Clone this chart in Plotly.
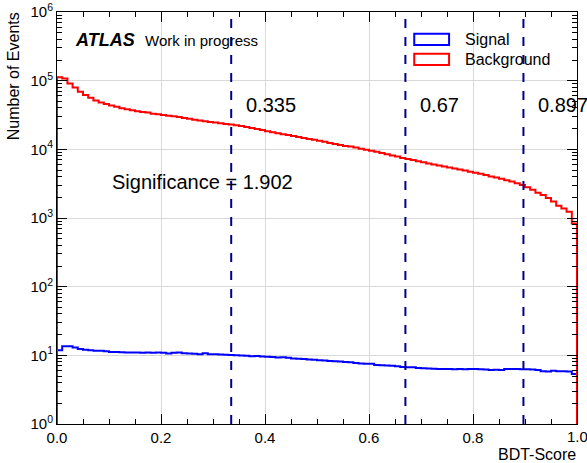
import numpy as np
import plotly.graph_objects as go

# Per-bin event counts of the BDT output (100 uniform bins on [0, 1])
background = [
    112200, 107200, 91200, 79400, 69200, 61700, 56200, 51300, 47900, 45700,
    43600, 41700, 39800, 38500, 37200, 35900, 35100, 34300, 33100, 32400,
    31600, 30900, 30200, 29500, 28500, 27900, 26900, 26300, 25700, 25100,
    24500, 24000, 23400, 22900, 22400, 21900, 21100, 20400, 19700, 19100,
    18400, 17800, 17200, 16600, 16200, 15700, 15100, 14600, 14100, 13800,
    13300, 12900, 12400, 12000, 11600, 11200, 11000, 10600, 10200, 9890,
    9550, 9230, 8810, 8510, 8130, 7850, 7500, 7240, 7000, 6680,
    6460, 6240, 6030, 5820, 5620, 5430, 5250, 5070, 4900, 4730,
    4570, 4420, 4220, 4030, 3890, 3720, 3550, 3390, 3200, 3020,
    2800, 2570, 2340, 2160, 1950, 1740, 1510, 1380, 1230, 830,
]
signal = [
    11.9, 13.6, 13.6, 13.0, 12.4, 12.1, 11.9, 11.7, 11.7, 11.5,
    11.2, 11.2, 11.1, 10.96, 10.96, 10.96, 10.9, 10.96, 10.9, 10.96,
    10.9, 10.6, 10.9, 10.96, 10.7, 10.6, 10.55, 10.35, 10.7, 10.4,
    10.35, 10.3, 10.2, 10.1, 10.05, 9.95, 9.85, 9.7, 9.75, 9.6,
    9.5, 9.45, 9.3, 9.35, 9.2, 9.0, 8.95, 8.85, 8.7, 8.6,
    8.5, 8.4, 8.3, 8.2, 8.1, 8.0, 7.9, 7.75, 7.6, 7.55,
    7.55, 7.25, 7.15, 7.1, 7.05, 6.95, 6.75, 6.7, 6.7, 6.55,
    6.5, 6.45, 6.4, 6.35, 6.3, 6.3, 6.25, 6.3, 6.25, 6.3,
    6.3, 6.25, 6.2, 6.1, 6.15, 6.1, 6.3, 6.35, 6.3, 6.25,
    6.25, 6.2, 6.1, 5.85, 5.8, 5.95, 5.85, 5.85, 5.8, 5.35,
]
cut_values = [0.335, 0.67, 0.897]
significance = 1.902
y_tick_exponents = [0, 1, 2, 3, 4, 5, 6]
x_tick_values = [0.0, 0.2, 0.4, 0.6, 0.8, 1.0]

edges = np.linspace(0.0, 1.0, len(background) + 1)


def outline(counts):
    """Step outline of a histogram, closed down to the axis floor at both ends."""
    floor = 10 ** y_tick_exponents[0]
    xs = [edges[0]] + list(edges[:-1]) + [edges[-1], edges[-1]]
    ys = [floor] + list(counts) + [counts[-1], floor]
    return xs, ys


FONT = "Liberation Sans, Arial, Helvetica, sans-serif"

fig = go.Figure()

sx, sy = outline(signal)
fig.add_trace(go.Scatter(x=sx, y=sy, mode="lines", line_shape="hv",
                         line=dict(color="#0000ff", width=2),
                         name="Signal", showlegend=False))
bx, by = outline(background)
fig.add_trace(go.Scatter(x=bx, y=by, mode="lines", line_shape="hv",
                         line=dict(color="#ff0000", width=2),
                         name="Background", showlegend=False))

# Cut positions: dashed vertical lines with their values
for c in cut_values:
    fig.add_shape(type="line", xref="x", yref="paper", x0=c, x1=c, y0=0, y1=1,
                  line=dict(color="#00008b", width=2, dash="dash"))
    fig.add_annotation(x=c + 0.025, y=0.774, xref="x", yref="paper",
                       text=f"{c}", showarrow=False, xanchor="left", yanchor="middle",
                       font=dict(family=FONT, size=20, color="black"))

fig.add_annotation(x=0.102, y=0.587, xref="x", yref="paper",
                   text=f"Significance = {significance}", showarrow=False,
                   xanchor="left", yanchor="middle",
                   font=dict(family=FONT, size=20, color="black"))

# ATLAS label
fig.add_annotation(x=0.03, y=0.932, xref="x", yref="paper", text="<b><i>ATLAS</i></b>",
                   showarrow=False, xanchor="left", yanchor="middle",
                   font=dict(family=FONT, size=18, color="black"))
fig.add_annotation(x=0.165, y=0.932, xref="x", yref="paper", text="Work in progress",
                   showarrow=False, xanchor="left", yanchor="middle",
                   font=dict(family=FONT, size=15, color="black"))

# Legend with outlined boxes
legend_items = [("Signal", "#0000ff", 0.9335), ("Background", "#ff0000", 0.885)]
for label, color, yc in legend_items:
    fig.add_shape(type="rect", xref="x", yref="paper",
                  x0=0.687, x1=0.754, y0=yc - 0.0135, y1=yc + 0.0135,
                  line=dict(color=color, width=2), fillcolor="rgba(0,0,0,0)")
    fig.add_annotation(x=0.78, y=yc, xref="x", yref="paper", text=label,
                       showarrow=False, xanchor="left", yanchor="middle",
                       font=dict(family=FONT, size=16, color="black"))

# The last x tick label overhangs the page edge; draw it as text so it is not dropped
fig.add_annotation(x=x_tick_values[-1], y=-0.03, xref="x", yref="paper",
                   text=f"{x_tick_values[-1]:.1f}", showarrow=False,
                   xanchor="center", yanchor="middle",
                   font=dict(family=FONT, size=15, color="black"))

# Axis titles (ROOT style: aligned to the axis ends)
fig.add_annotation(x=1.0, y=-0.073, xref="paper", yref="paper", text="BDT-Score",
                   showarrow=False, xanchor="right", yanchor="middle", borderpad=0,
                   font=dict(family=FONT, size=16, color="black"))
fig.add_annotation(x=-0.082, y=1.005, xref="paper", yref="paper", text="Number of Events",
                   textangle=-90, showarrow=False, xanchor="center", yanchor="top",
                   font=dict(family=FONT, size=16, color="black"))

y_minor = [k * 10 ** e for e in y_tick_exponents[:-1] for k in range(2, 10)]

fig.update_xaxes(
    range=[0, 1], tickmode="array", tickvals=x_tick_values,
    ticktext=[f"{v:.1f}" for v in x_tick_values], automargin=False,
    showline=True, linecolor="black", linewidth=1, mirror="allticks",
    ticks="inside", ticklen=10, tickcolor="black",
    showgrid=True, gridcolor="#d9d9d9", gridwidth=1, zeroline=False,
    minor=dict(dtick=0.05, ticks="inside", ticklen=5, tickcolor="black", showgrid=False),
    tickfont=dict(family=FONT, size=15, color="black"),
)
fig.update_yaxes(
    type="log", range=[y_tick_exponents[0], y_tick_exponents[-1]], automargin=False,
    tickmode="array",
    tickvals=[10 ** e for e in y_tick_exponents],
    ticktext=[f"10<sup>{e}</sup>" for e in y_tick_exponents],
    showline=True, linecolor="black", linewidth=1, mirror="allticks",
    ticks="inside", ticklen=10, tickcolor="black",
    showgrid=True, gridcolor="#d9d9d9", gridwidth=1, zeroline=False,
    minor=dict(tickmode="array", tickvals=y_minor, ticks="inside", ticklen=5,
               tickcolor="black", showgrid=False),
    tickfont=dict(family=FONT, size=15, color="black"),
)

fig.update_layout(
    width=587, height=463,
    margin=dict(l=57, r=10, t=12, b=39),
    paper_bgcolor="white", plot_bgcolor="white",
    showlegend=False,
)

fig.write_html("out.html")
